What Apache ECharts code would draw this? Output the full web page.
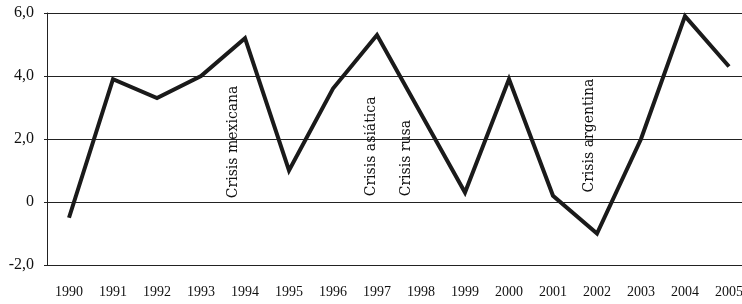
<!DOCTYPE html>
<html lang="es">
<head>
    <meta charset="UTF-8">
    <title>Crecimiento</title>
    <script src="https://cdn.jsdelivr.net/npm/echarts@6/dist/echarts.min.js"></script>
    <style>
        html, body { margin: 0; padding: 0; background: #fff; }
        #chart { width: 742px; height: 304px; }
    </style>
</head>
<body>
<div id="chart"></div>
<script type="text/javascript">
    // datos
    var years = ['1990', '1991', '1992', '1993', '1994', '1995', '1996', '1997',
                 '1998', '1999', '2000', '2001', '2002', '2003', '2004', '2005'];
    var values = [-0.5, 3.9, 3.3, 4.0, 5.2, 1.0, 3.6, 5.3,
                  2.8, 0.3, 3.9, 0.2, -1.0, 2.0, 5.9, 4.3];
    var yTicks = [-2, 0, 2, 4, 6];
    var yTickLabels = ['-2,0', '0', '2,0', '4,0', '6,0'];
    var crisisYears = ['1994', '1997', '1998', '2002'];
    var crisisNames = ['Crisis mexicana', 'Crisis asiática', 'Crisis rusa', 'Crisis argentina'];

    var myChart = echarts.init(document.getElementById('chart'));

    var option = {
        animation: false,
        grid: {
            left: 47,
            top: 13,
            width: 704,
            height: 252,
            outerBoundsMode: 'none'
        },
        xAxis: {
            type: 'category',
            data: years,
            axisLine: { lineStyle: { color: '#222', width: 1 } },
            axisTick: { length: 5, lineStyle: { color: '#222' } },
            axisLabel: {
                margin: 20,
                color: '#111',
                fontFamily: 'Liberation Serif',
                fontSize: 14
            }
        },
        yAxis: {
            type: 'value',
            min: -2,
            max: 6,
            interval: 2,
            axisLine: { show: true, lineStyle: { color: '#222', width: 1 } },
            axisTick: { show: true, length: 3, lineStyle: { color: '#222' } },
            splitLine: { lineStyle: { color: '#222', width: 1 } },
            axisLabel: {
                margin: 13,
                color: '#111',
                fontFamily: 'Liberation Serif',
                fontSize: 16,
                formatter: function (v) {
                    return yTickLabels[yTicks.indexOf(v)];
                }
            }
        },
        series: [{
            type: 'line',
            data: values,
            symbol: 'none',
            lineStyle: { color: '#1a1a1a', width: 4, join: 'miter', cap: 'butt' }
        }]
    };
    myChart.setOption(option);

    // etiquetas verticales de las crisis
    var dx = [-12, -6, -15, -8];
    var bottomVal = [0.12, 0.18, 0.18, 0.3];
    var texts = [];
    for (var i = 0; i < crisisYears.length; i++) {
        var p = myChart.convertToPixel({ xAxisIndex: 0, yAxisIndex: 0 }, [crisisYears[i], bottomVal[i]]);
        texts.push({
            type: 'text',
            x: p[0] + dx[i],
            y: p[1],
            rotation: Math.PI / 2,
            style: {
                text: crisisNames[i],
                font: '14px "DejaVu Serif"',
                fill: '#111',
                textAlign: 'left',
                textVerticalAlign: 'middle'
            }
        });
    }
    myChart.setOption({ graphic: texts });
</script>
</body>
</html>
